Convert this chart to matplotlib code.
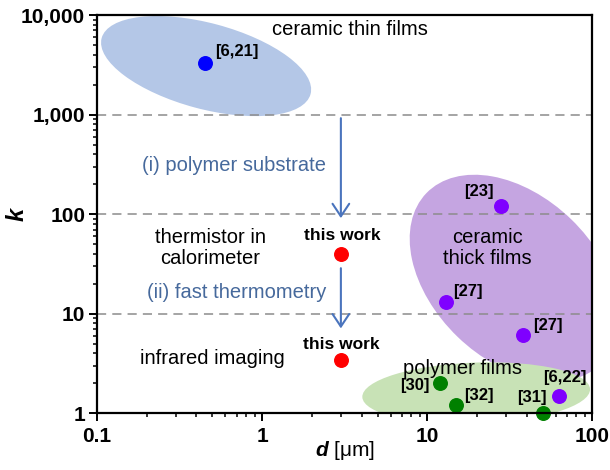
import matplotlib
matplotlib.use("Agg")
import matplotlib.pyplot as plt
from matplotlib.patches import Ellipse
from matplotlib.transforms import Affine2D
from matplotlib.ticker import FixedLocator, LogLocator, NullFormatter
import math

plt.rcParams['font.family'] = ['Liberation Sans', 'DejaVu Sans']
plt.rcParams['mathtext.fontset'] = 'custom'
plt.rcParams['mathtext.it'] = 'Liberation Sans:italic:bold'

# thickness d [um] and k for each group
thin_d = [0.45]
thin_k = [3300]
thin_refs = ["[6,21]"]

work_d = [3.0, 3.0]
work_k = [40, 3.4]

thick_d = [28, 13, 38, 63]
thick_k = [120, 13, 6.1, 1.5]
thick_refs = ["[23]", "[27]", "[27]", "[6,22]"]

poly_d = [12, 15, 50]
poly_k = [2.0, 1.2, 1.0]
poly_refs = ["[30]", "[32]", "[31]"]

# shaded regions: centre (d, k), width/height in decades of d, angle in degrees
regions = {
    "thin":  dict(d=0.458, k=3070, w=1.31, h=0.52, ang=-15, color="#b4c7e7"),
    "thick": dict(d=33.7, k=22.8, w=1.48, h=0.99, ang=-44, color="#c5a5e1"),
    "poly":  dict(d=19.8, k=1.59, w=1.38, h=0.37, ang=2, color="#c8e2b6"),
}

xticks = [0.1, 1, 10, 100]
xtick_labels = ["0.1", "1", "10", "100"]
yticks = [1, 10, 100, 1000, 10000]
ytick_labels = ["1", "10", "100", "1,000", "10,000"]

fig = plt.figure(figsize=(6.1, 4.7), dpi=100)
ax = fig.add_axes([0.159, 0.121, 0.812, 0.847])
ax.set_xscale('log')
ax.set_yscale('log')
ax.set_xlim(0.1, 100)
ax.set_ylim(1, 10000)

# ellipses drawn in log space with equal visual scaling on both axes
W = 0.812 * 610
H = 0.847 * 470
s = (H / 4) / (W / 3)
log_tr = Affine2D().translate(1, 0).scale(1 / 3, 1 / (4 * s)) + ax.transAxes
for name in ["thin", "thick", "poly"]:
    r = regions[name]
    e = Ellipse((math.log10(r["d"]), math.log10(r["k"]) * s), r["w"], r["h"],
                angle=r["ang"], transform=log_tr, facecolor=r["color"],
                edgecolor='none', zorder=1)
    ax.add_patch(e)

for yv in [10, 100, 1000]:
    ax.axhline(yv, color="#8c8c8c", lw=1.1, linestyle=(0, (6, 4)), zorder=2)

ax.scatter(thin_d, thin_k, s=95, color="#0000ff", zorder=5, clip_on=False)
ax.scatter(work_d, work_k, s=95, color="#ff0000", zorder=5, clip_on=False)
ax.scatter(thick_d, thick_k, s=95, color="#7f00ff", zorder=5, clip_on=False)
ax.scatter(poly_d, poly_k, s=95, color="#008000", zorder=5, clip_on=False)

ref_kw = dict(textcoords='offset points', fontsize=12, fontweight='bold',
              ha='center', va='center', zorder=6)
ax.annotate(thin_refs[0], (thin_d[0], thin_k[0]), xytext=(23, 8), **ref_kw)
thick_off = [(-16, 10.5), (16, 7.5), (18, 7), (4, 13)]
for d, k, lab, off in zip(thick_d, thick_k, thick_refs, thick_off):
    ax.annotate(lab, (d, k), xytext=off, **ref_kw)
poly_off = [(-18, -1.5), (16.5, 7), (-7.5, 11.5)]
for d, k, lab, off in zip(poly_d, poly_k, poly_refs, poly_off):
    ax.annotate(lab, (d, k), xytext=off, **ref_kw)
ax.annotate("this work", (work_d[0], work_k[0]), xytext=(1, 13), **dict(ref_kw, fontsize=12.5))
ax.annotate("this work", (work_d[1], work_k[1]), xytext=(0, 11.5), **dict(ref_kw, fontsize=12.5))

txt = dict(fontsize=14.5, ha='center', va='center', zorder=6, linespacing=1.1)
blue_txt = "#46699c"
ax.text(3.4, 7230, "ceramic thin films", **txt)
ax.text(0.676, 310, "(i) polymer substrate", color=blue_txt, **txt)
ax.text(0.484, 45.5, "thermistor in\ncalorimeter", **txt)
ax.text(0.705, 16.4, "(ii) fast thermometry", color=blue_txt, **txt)
ax.text(0.498, 3.57, "infrared imaging", **txt)
ax.text(23.1, 45.5, "ceramic\nthick films", **txt)
ax.text(16.3, 2.83, "polymer films", **txt)

arrow_kw = dict(arrowstyle='->,head_length=0.45,head_width=0.3', color="#4a74bd",
                lw=1.5, mutation_scale=20, shrinkA=0, shrinkB=0)
ax.annotate("", xy=(3.0, 91), xytext=(3.0, 920), arrowprops=arrow_kw, zorder=4)
ax.annotate("", xy=(3.0, 7.1), xytext=(3.0, 28.6), arrowprops=arrow_kw, zorder=4)

for sp in ax.spines.values():
    sp.set_linewidth(1.6)
    sp.set_zorder(7)

ax.xaxis.set_major_locator(FixedLocator(xticks))
ax.set_xticklabels(xtick_labels)
ax.yaxis.set_major_locator(FixedLocator(yticks))
ax.set_yticklabels(ytick_labels)
ax.xaxis.set_minor_locator(LogLocator(base=10, subs=range(2, 10)))
ax.yaxis.set_minor_locator(LogLocator(base=10, subs=range(2, 10)))
ax.xaxis.set_minor_formatter(NullFormatter())
ax.yaxis.set_minor_formatter(NullFormatter())
ax.tick_params(which='major', direction='out', length=5.5, width=1.4,
               labelsize=15, pad=3)
ax.tick_params(axis='x', which='major', pad=4.5)
ax.tick_params(which='minor', direction='out', length=3, width=1.1)
for lab in ax.get_xticklabels() + ax.get_yticklabels():
    lab.set_fontweight('bold')

ax.set_xlabel("$d$ [μm]", fontsize=15, labelpad=-5)
ax.set_ylabel("$k$", fontsize=17)
ax.yaxis.set_label_coords(-0.137, 0.5)

fig.savefig("out.png", dpi=100)
